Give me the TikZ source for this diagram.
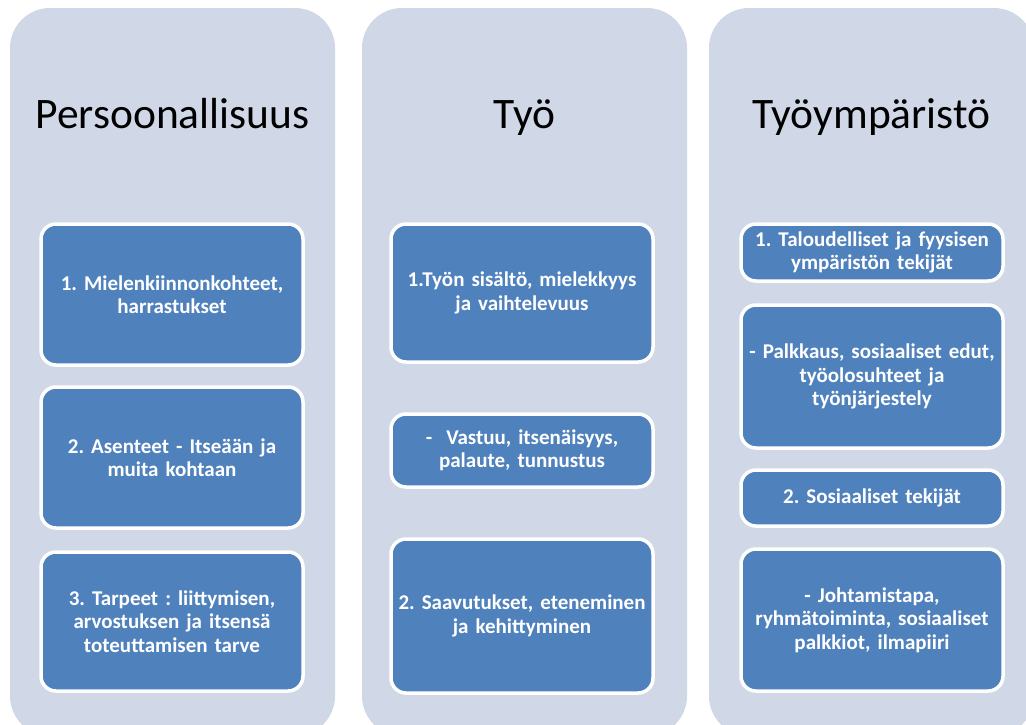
\documentclass[tikz,border=0pt]{standalone}
\usepackage{fontspec}
\setmainfont{Carlito}
\usepackage{xcolor}
\definecolor{colbg}{RGB}{208,216,232}
\definecolor{boxblue}{RGB}{79,129,189}
\frenchspacing

\begin{document}
\begin{tikzpicture}[x=1pt, y=-1pt,
  col/.style={fill=colbg, rounded corners=40pt, minimum width=325pt, minimum height=728pt, inner sep=0pt},
  title/.style={anchor=base, font=\fontsize{43.5}{50}\selectfont},
  item/.style={draw=white, line width=3.5pt, fill=boxblue, rounded corners=15pt, minimum width=262pt, text width=250pt, align=center, text=white, inner sep=0pt, font=\fontsize{21}{23.5}\selectfont\bfseries}]
\useasboundingbox (0,0) rectangle (1026,724);
\clip (0,0) rectangle (1026,724);
% columns
\node[col] (colP) at (172.5, 372) {};
\node[col] (colT) at (524.5, 372) {};
\node[col] (colY) at (871.5, 372) {};
% titles
\node[title] (tP) at (172.5, 128) {Persoonallisuus};
\node[title] (tT) at (524.5, 128) {Työ};
\node[title] (tY) at (871.5, 128) {Työympäristö};
% Persoonallisuus
\node[item, minimum height=141pt] (p1) at (172, 294.5) {1. Mielenkiinnonkohteet,\\ harrastukset};
\node[item, minimum height=141pt] (p2) at (172, 457.5) {2. Asenteet - Itseään ja\\ muita kohtaan};
\node[item, minimum height=139pt] (p3) at (172, 621.5) {3. Tarpeet : liittymisen,\\ arvostuksen ja itsensä\\ toteuttamisen tarve};
% Työ
\node[item, minimum height=138pt] (t1) at (522, 293) {1.Työn sisältö, mielekkyys\\ ja vaihtelevuus};
\node[item, minimum height=73pt] (t2) at (522, 450.5) {-\ \ Vastuu, itsenäisyys,\\ palaute, tunnustus};
\node[item, minimum height=154pt] (t3) at (522, 616) {2. Saavutukset, eteneminen\\ ja kehittyminen};
% Työympäristö
\node[item, minimum height=57pt] (y1) at (872, 252.5) {1. Taloudelliset ja fyysisen\\ ympäristön tekijät};
\node[item, minimum height=143pt] (y2) at (872, 376.5) {- Palkkaus, sosiaaliset edut,\\ työolosuhteet ja\\ työnjärjestely};
\node[item, minimum height=56pt] (y3) at (872, 498) {2. Sosiaaliset tekijät};
\node[item, minimum height=142pt] (y4) at (872, 620) {- Johtamistapa,\\ ryhmätoiminta, sosiaaliset\\ palkkiot, ilmapiiri};
\end{tikzpicture}
\end{document}
